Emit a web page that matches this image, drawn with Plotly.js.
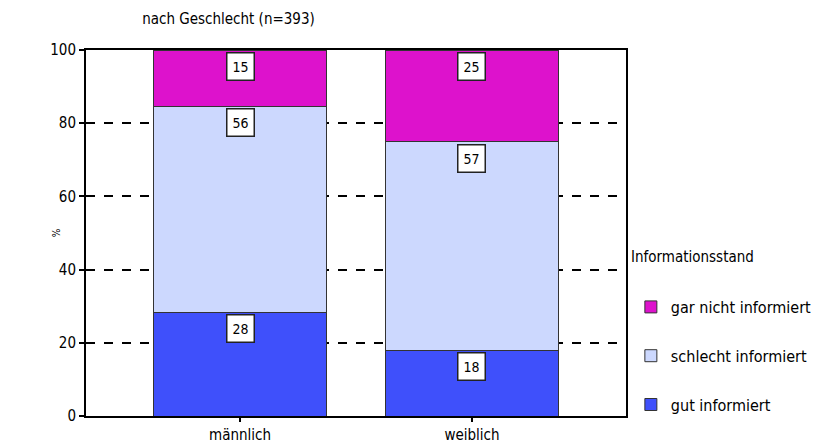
<!DOCTYPE html>
<html>
<head>
<meta charset="utf-8">
<script src="https://cdn.plot.ly/plotly-3.0.1.min.js"></script>
<style>
  body { margin: 0; background: #fff; }
  #chart { width: 823px; height: 443px; }
</style>
</head>
<body>
<div id="chart"></div>
<script>
const categories = ['männlich', 'weiblich'];
const gutInformiert = [28.4, 18.0];
const schlechtInformiert = [56.3, 56.9];
const garNichtInformiert = [15.3, 25.1];

const seriesNames = ['gut informiert', 'schlecht informiert', 'gar nicht informiert'];
const seriesColors = ['#3f50fb', '#ccd8fe', '#dd12cc'];
const seriesValues = [gutInformiert, schlechtInformiert, garNichtInformiert];

const fontFamily = '"DejaVu Sans Condensed", "Liberation Sans Narrow", Roboto, sans-serif';

const traces = seriesValues.map((vals, i) => ({
    x: categories,
    y: vals,
    name: seriesNames[i],
    type: 'bar',
    width: 0.746,
    legendgroup: 'g' + i,
    legendrank: 3 - i,
    marker: { color: seriesColors[i], line: { color: '#333', width: 1 } },
    hoverinfo: 'skip'
}));

// value boxes near the top of each segment
const annotations = [];
categories.forEach((cat, c) => {
    let top = 0;
    seriesValues.forEach(vals => {
        top += vals[c];
        annotations.push({
            x: cat, y: top, xref: 'x', yref: 'y',
            text: String(Math.round(vals[c])),
            showarrow: false, yanchor: 'top', yshift: -2,
            bgcolor: '#fff', bordercolor: '#222', borderwidth: 1.5, borderpad: 5,
            font: { family: fontFamily, size: 14, color: '#000' }
        });
    });
});

annotations.push({
    text: '%', xref: 'paper', yref: 'paper', x: -0.055, y: 0.5,
    xanchor: 'center', yanchor: 'middle',
    showarrow: false, textangle: -90,
    font: { family: fontFamily, size: 10, color: '#000' }
});

// legend heading
annotations.push({
    text: 'Informationsstand', xref: 'paper', yref: 'paper',
    x: 1.006, y: (416 - 257) / 366, xanchor: 'left', yanchor: 'middle',
    showarrow: false,
    font: { family: fontFamily, size: 15, color: '#000' }
});

const layout = {
    width: 823, height: 443,
    margin: { l: 86, r: 197, t: 50, b: 27, autoexpand: false },
    paper_bgcolor: '#fff', plot_bgcolor: '#fff',
    barmode: 'stack',
    bargap: 0,
    font: { family: fontFamily, size: 15, color: '#000' },
    title: {
        text: 'nach Geschlecht (n=393)',
        x: 0.104, xref: 'paper', xanchor: 'left',
        y: 0.958, yref: 'container', yanchor: 'middle',
        font: { family: fontFamily, size: 15, color: '#000' }
    },
    xaxis: {
        range: [-0.664, 1.664],
        showline: true, linecolor: '#000', linewidth: 2, mirror: true,
        ticks: 'outside', ticklen: 4, tickwidth: 2, tickcolor: '#000',
        showgrid: false, fixedrange: true,
        tickfont: { family: fontFamily, size: 15 }
    },
    yaxis: {
        range: [0, 100],
        tickvals: [0, 20, 40, 60, 80, 100],
        showline: true, linecolor: '#000', linewidth: 2, mirror: true,
        ticks: 'outside', ticklen: 5, tickwidth: 2, tickcolor: '#000',
        showgrid: true, gridcolor: '#000', gridwidth: 2, griddash: 'dash',
        zeroline: false, fixedrange: true,
        tickfont: { family: fontFamily, size: 15 }
    },
    showlegend: true,
    legend: {
        x: 1.009, xanchor: 'left', y: (416 - 290) / 366, yanchor: 'top',
        traceorder: 'grouped', tracegroupgap: 25,
        font: { family: fontFamily, size: 16, color: '#000' },
        bgcolor: 'rgba(0,0,0,0)', itemwidth: 30
    },
    annotations: annotations
};

Plotly.newPlot('chart', traces, layout, { displayModeBar: false, staticPlot: true });
</script>
</body>
</html>
